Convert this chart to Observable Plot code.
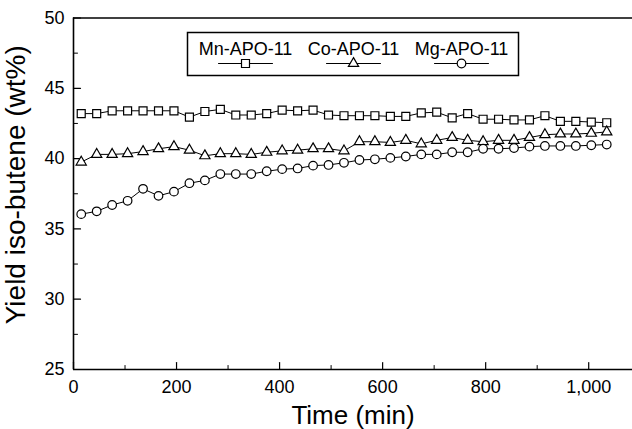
<!DOCTYPE html>
<html><head><meta charset="utf-8">
<script src="https://cdn.jsdelivr.net/npm/d3@7"></script>
<script src="https://cdn.jsdelivr.net/npm/@observablehq/plot@0.6"></script>
<style>
body{margin:0;background:#fff;}
#wrap{position:relative;width:632px;height:429px;font-family:"Liberation Sans",Arial,sans-serif;}
#legend{position:absolute;left:187px;top:32px;}
</style></head><body><div id="wrap"><div id="legend"></div></div>
<script>
const times = [15,45,75,105,135,165,195,225,255,285,315,345,375,405,435,465,495,525,555,585,615,645,675,705,735,765,795,825,855,885,915,945,975,1005,1035];
const mnYield = [43.2,43.2,43.4,43.4,43.4,43.4,43.4,42.95,43.35,43.5,43.1,43.1,43.2,43.45,43.4,43.45,43.1,43.05,43.05,43.05,43.0,43.0,43.25,43.3,42.9,43.2,42.8,42.8,42.75,42.75,43.05,42.65,42.65,42.6,42.55];
const coYield = [39.75,40.3,40.3,40.35,40.5,40.7,40.85,40.6,40.2,40.35,40.35,40.3,40.45,40.55,40.6,40.7,40.7,40.55,41.2,41.2,41.15,41.3,41.05,41.3,41.5,41.3,41.2,41.3,41.3,41.5,41.7,41.75,41.75,41.8,41.9];
const mgYield = [36.05,36.25,36.7,37.0,37.85,37.35,37.65,38.25,38.45,38.9,38.9,38.9,39.1,39.25,39.3,39.5,39.55,39.7,39.9,39.95,40.05,40.15,40.3,40.3,40.45,40.45,40.7,40.7,40.75,40.85,40.9,40.9,40.9,40.95,41.0];
const seriesNames = ["Mn-APO-11","Co-APO-11","Mg-APO-11"];
const seriesSymbols = ["square","triangle","circle"];
const symbolRadius = [4.5,3.8,4.3];
const xTickLabels = [0,200,400,600,800,1000];
const xMinorTicks = [100,300,500,700,900];
const yTickLabels = [25,30,35,40,45,50];
const yMinorTicks = [27.5,32.5,37.5,42.5,47.5];
const xTitle = "Time (min)";
const yTitle = "Yield iso-butene (wt%)";

const seriesValues = [mnYield, coYield, mgYield];
const rows = seriesNames.flatMap((s,i)=>times.map((t,j)=>({series:s, time:t, value:seriesValues[i][j]})));
const tickShape = {draw(ctx,l){ctx.moveTo(0,0);ctx.lineTo(0,-l);}};
const font = '"Liberation Sans", Arial, Helvetica, sans-serif';

const chart = Plot.plot({
  width: 632, height: 429,
  marginLeft: 73, marginRight: 0, marginTop: 17.5, marginBottom: 60,
  x: {domain: [0, 1085]},
  y: {domain: [d3.min(yTickLabels), d3.max(yTickLabels)]},
  style: {background: "#fff", fontFamily: font, color: "black", overflow: "visible"},
  marks: [
    Plot.ruleY([d3.max(yTickLabels)], {stroke: "black", strokeWidth: 1.6}),
    Plot.ruleY([d3.min(yTickLabels)], {stroke: "black", strokeWidth: 1.6}),
    Plot.ruleX([d3.min(xTickLabels)], {stroke: "black", strokeWidth: 1.6}),
    Plot.vector(yTickLabels, {y: d=>d, frameAnchor: "left", length: 7, rotate: 90, anchor: "start", shape: tickShape, stroke: "black", strokeWidth: 1.2}),
    Plot.vector(yMinorTicks, {y: d=>d, frameAnchor: "left", length: 4, rotate: 90, anchor: "start", shape: tickShape, stroke: "black", strokeWidth: 1}),
    Plot.vector(xTickLabels, {x: d=>d, frameAnchor: "bottom", length: 7, rotate: 0, anchor: "start", shape: tickShape, stroke: "black", strokeWidth: 1.2}),
    Plot.vector(xMinorTicks, {x: d=>d, frameAnchor: "bottom", length: 4, rotate: 0, anchor: "start", shape: tickShape, stroke: "black", strokeWidth: 1}),
    Plot.axisY({ticks: yTickLabels, tickSize: 0, tickPadding: 9, fontSize: 18, label: null}),
    Plot.axisX({ticks: xTickLabels, tickSize: 0, tickPadding: 11, fontSize: 18, tickFormat: d3.format(","), label: null}),
    Plot.line(rows, {x: "time", y: "value", z: "series", stroke: "black", strokeWidth: 1}),
    ...seriesNames.map((s,i)=>Plot.dot(rows.filter(d=>d.series===s), {x: "time", y: "value", symbol: seriesSymbols[i], r: symbolRadius[i], fill: "white", stroke: "black", strokeWidth: 1.2})),
    Plot.text([yTitle], {frameAnchor: "left", textAnchor: "middle", lineAnchor: "middle", dx: -57, dy: -9, rotate: -90, fontSize: 28}),
    Plot.text([xTitle], {frameAnchor: "bottom", textAnchor: "middle", lineAnchor: "middle", dy: 46, fontSize: 26})
  ]
});
document.getElementById("wrap").prepend(chart);

const legend = Plot.plot({
  width: 331, height: 43,
  marginLeft: 0, marginRight: 0, marginTop: 0, marginBottom: 0,
  x: {type: "point", domain: seriesNames, range: [57, 274], padding: 0, axis: null},
  style: {background: "#fff", fontFamily: font, color: "black", overflow: "visible"},
  marks: [
    Plot.frame({stroke: "black", strokeWidth: 1.5}),
    Plot.text(seriesNames, {x: d=>d, frameAnchor: "top", lineAnchor: "middle", dy: 17, fontSize: 18}),
    Plot.vector(seriesNames, {x: d=>d, frameAnchor: "top", dy: 31, length: 54, rotate: 90, anchor: "middle", shape: tickShape, stroke: "black", strokeWidth: 1}),
    ...seriesNames.map((s,i)=>Plot.dot([s], {x: d=>d, frameAnchor: "top", dy: 31, symbol: seriesSymbols[i], r: symbolRadius[i], fill: "white", stroke: "black", strokeWidth: 1.2}))
  ]
});
document.getElementById("legend").appendChild(legend);
</script>
</body></html>
